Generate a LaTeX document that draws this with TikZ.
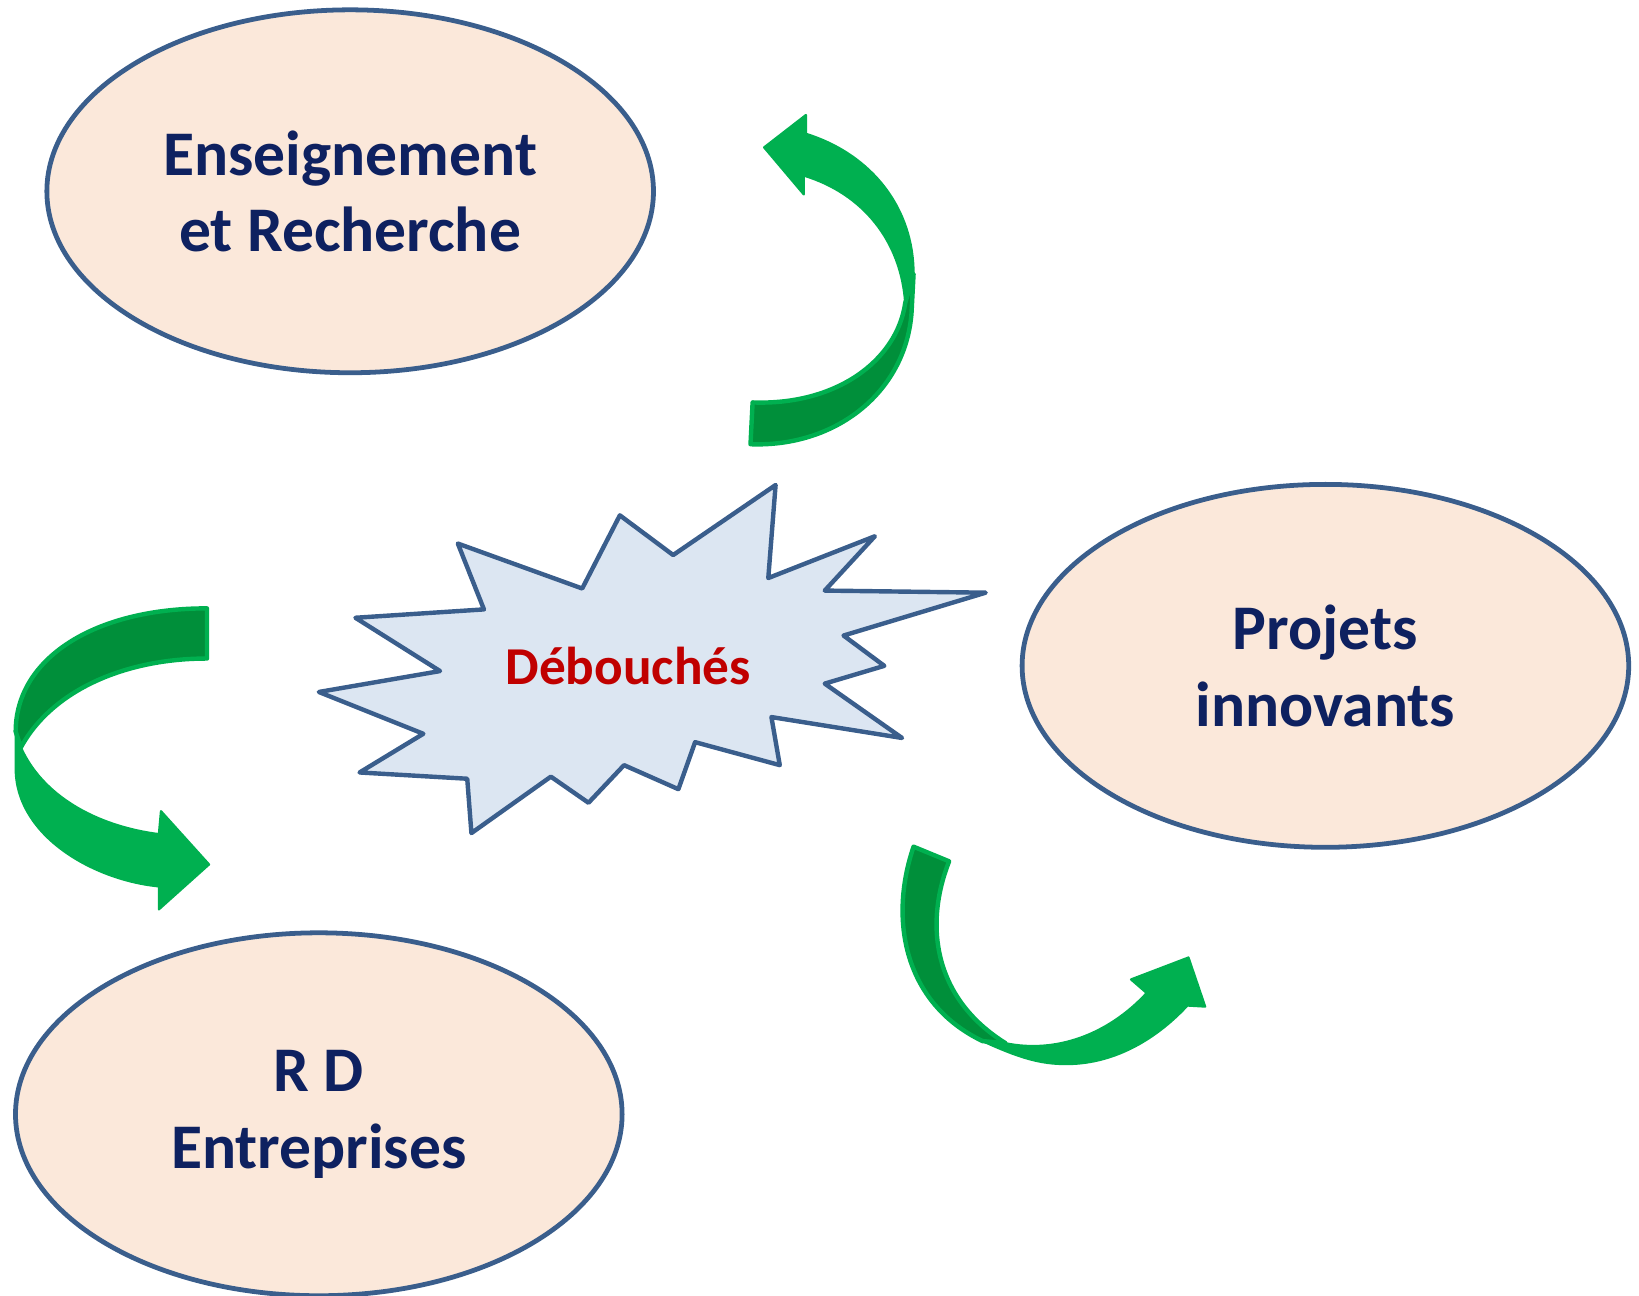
\documentclass[tikz,border=0pt]{standalone}
\usepackage{fontspec}
\setmainfont{Carlito}
\usetikzlibrary{shapes.geometric}
\usetikzlibrary{positioning}
\definecolor{ovalline}{HTML}{3A5E8C}
\definecolor{ovalfill}{HTML}{FBE8DA}
\definecolor{burstfill}{HTML}{DCE6F2}
\definecolor{textblue}{HTML}{0E2160}
\definecolor{textred}{HTML}{C00000}
\definecolor{arrowlight}{HTML}{00B050}
\definecolor{arrowdark}{HTML}{008F3A}
\tikzset{ovalnode/.style = {draw = ovalline, fill = ovalfill, ellipse, line width = 1.3pt, inner sep = 0,
    minimum width = 5.8cm, minimum height = 3.47cm, align = center, text = textblue,
    font = \fontsize{17.3}{20.8}\selectfont\bfseries}}
\tikzset{burst/.style = {draw = ovalline, fill = burstfill, line width = 1.2pt, line join = round}}
\tikzset{arrowfront/.style = {fill = arrowlight, draw = arrowlight, line width = 0.6pt, line join = round}}
\tikzset{arrowback/.style = {fill = arrowdark, draw = arrowlight, line width = 1.2pt, line join = round}}

\begin{document}
\begin{tikzpicture}[x=0.01cm, y=-0.01cm]
    \useasboundingbox (0, 0) rectangle (1568, 1239);
    \node [ovalnode] (ens) at (335, 183) {Enseignement\\et Recherche};
    \node [ovalnode] (proj) at (1268, 637) {Projets\\innovants};
    \node [ovalnode] (rd) at (305, 1066) {R D\\Entreprises};
    \draw [burst] (438, 520) -- (557, 563) -- (593, 493) -- (644, 531) -- (742, 464) -- (735, 553)
      -- (837, 513) -- (789, 565) -- (943, 567) -- (807, 608) -- (846, 637) -- (789, 654)
      -- (863, 706) -- (738, 686) -- (746, 732) -- (665, 710) -- (649, 755) -- (597, 732)
      -- (563, 768) -- (527, 743) -- (451, 797) -- (447, 745) -- (344, 739) -- (405, 702)
      -- (305, 662) -- (421, 642) -- (340, 591) -- (463, 583) -- cycle;
    \node [text = textred, font = \fontsize{14.5}{17}\selectfont\bfseries] (deb) at (601, 637) {Débouchés};
    \draw [arrowback] (720, 385) .. controls (800, 388) and (858, 345) .. (866, 290) -- (874, 262)
      -- (872, 300) .. controls (866, 375) and (800, 428) .. (718, 425) -- cycle;
    \draw [arrowfront] (771, 110) -- (731, 141) -- (769, 186) -- (769, 168)
      .. controls (825, 185) and (862, 230) .. (866, 290) -- (874, 262)
      .. controls (874, 200) and (835, 148) .. (771, 128) -- cycle;
    \draw [arrowback] (198, 582) .. controls (90, 582) and (15, 630) .. (15, 700) -- (20, 715)
      .. controls (50, 660) and (120, 630) .. (198, 630) -- cycle;
    \draw [arrowfront] (15, 700) -- (15, 735) .. controls (15, 800) and (90, 842) .. (152, 848)
      -- (152, 870) -- (200, 827) -- (154, 776) -- (152, 798)
      .. controls (90, 790) and (40, 760) .. (20, 715) -- cycle;
    \draw [arrowback] (874, 810) -- (908, 824) .. controls (884, 885) and (893, 955) .. (962, 998)
      -- (940, 996) .. controls (865, 960) and (850, 880) .. (874, 810) -- cycle;
    \draw [arrowfront] (940, 996) .. controls (975, 1012) and (995, 1018) .. (1020, 1018)
      .. controls (1070, 1018) and (1110, 990) .. (1136, 962) -- (1153, 963) -- (1137, 916)
      -- (1082, 937) -- (1097, 950) .. controls (1060, 990) and (1010, 1008) .. (962, 998) -- cycle;
  \end{tikzpicture}
\end{document}
